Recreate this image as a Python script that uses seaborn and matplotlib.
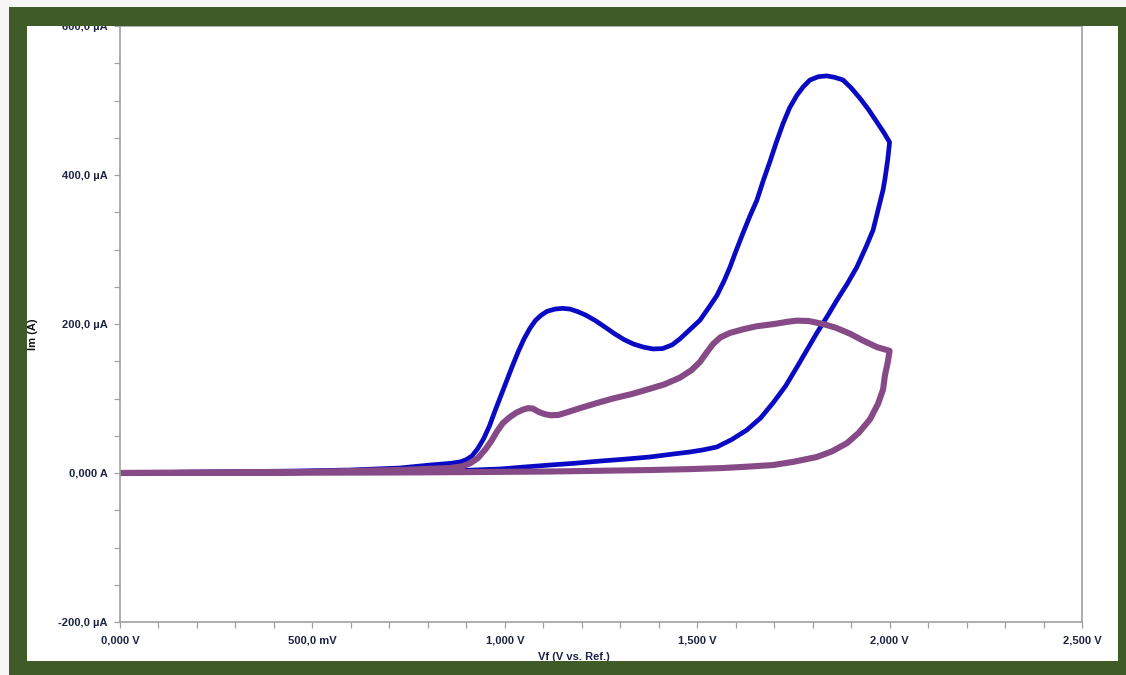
import numpy as np
import pandas as pd
import matplotlib
matplotlib.use("Agg")
import matplotlib.pyplot as plt
from matplotlib.patches import Rectangle
from matplotlib.ticker import FixedLocator, MultipleLocator
import seaborn as sns

# Cyclic voltammograms: potential (V) vs. current (uA), forward sweep then reverse sweep
blue_fwd_v = [0.0, 0.208, 0.468, 0.598, 0.728, 0.806, 0.86, 0.885, 0.90, 0.915, 0.93, 0.945,
              0.96, 0.975, 0.99, 1.005, 1.02, 1.035, 1.05, 1.065, 1.08, 1.095, 1.11, 1.13,
              1.15, 1.17, 1.19, 1.21, 1.234, 1.26, 1.285, 1.31, 1.335, 1.36, 1.385, 1.41,
              1.435, 1.455, 1.48, 1.507, 1.53, 1.551, 1.57, 1.585, 1.60, 1.619, 1.637, 1.655,
              1.672, 1.689, 1.705, 1.723, 1.74, 1.759, 1.775, 1.793, 1.815, 1.837, 1.858,
              1.879, 1.90, 1.923, 1.945, 1.967, 1.985, 2.0]
blue_fwd_i = [0.0, 1.3, 2.7, 4.0, 6.7, 10.7, 13.0, 15.0, 18.0, 23.0, 33.0, 46.0,
              63.0, 84.0, 104.0, 124.0, 144.0, 163.0, 180.0, 194.0, 205.0, 212.0, 217.0, 220.0,
              221.0, 220.0, 216.5, 212.0, 205.0, 196.0, 187.0, 179.0, 173.0, 169.0, 166.5, 167.0,
              172.0, 180.0, 192.0, 205.0, 222.0, 238.0, 258.0, 276.0, 297.0, 322.0, 345.0, 366.0,
              393.0, 418.0, 443.0, 469.0, 490.0, 507.0, 518.0, 527.5, 532.0, 533.0, 531.0,
              527.5, 517.0, 503.0, 488.0, 471.0, 457.0, 444.0]
blue_rev_v = [1.995, 1.988, 1.983, 1.97, 1.957, 1.94, 1.915, 1.89, 1.863, 1.84, 1.811, 1.785,
              1.759, 1.73, 1.697, 1.665, 1.629, 1.59, 1.551, 1.515, 1.481, 1.43, 1.377, 1.31,
              1.247, 1.18, 1.117, 1.05, 0.988, 0.92, 0.858, 0.75, 0.598, 0.3, 0.0]
blue_rev_i = [420.0, 395.0, 380.0, 353.0, 326.0, 305.0, 276.5, 254.0, 232.0, 212.0, 188.0, 165.0,
              142.0, 117.0, 94.0, 74.0, 57.7, 45.0, 34.9, 31.0, 28.2, 25.0, 21.5, 18.5,
              16.0, 13.0, 10.7, 8.0, 5.4, 4.0, 2.7, 1.5, 0.7, 0.3, 0.0]

purple_fwd_v = [0.0, 0.468, 0.728, 0.858, 0.89, 0.91, 0.93, 0.95, 0.965, 0.98, 0.995, 1.013,
                1.03, 1.047, 1.06, 1.073, 1.088, 1.104, 1.12, 1.14, 1.165, 1.195, 1.24, 1.281,
                1.33, 1.37, 1.415, 1.455, 1.485, 1.507, 1.525, 1.541, 1.56, 1.585, 1.62, 1.655,
                1.7, 1.735, 1.759, 1.79, 1.827, 1.86, 1.897, 1.93, 1.967, 2.0]
purple_fwd_i = [0.0, 1.3, 4.0, 6.7, 9.0, 13.0, 20.0, 32.0, 43.0, 56.0, 67.0, 75.0,
                81.0, 85.0, 87.0, 86.5, 82.0, 79.0, 77.5, 78.0, 82.0, 87.0, 94.0, 100.0,
                106.0, 112.0, 119.0, 128.0, 138.0, 149.0, 162.0, 173.0, 182.0, 188.0, 193.0, 197.0,
                200.0, 203.0, 204.5, 204.0, 200.0, 195.0, 187.0, 178.0, 169.0, 164.0]
purple_rev_v = [1.995, 1.988, 1.983, 1.97, 1.949, 1.92, 1.889, 1.85, 1.811, 1.75, 1.697, 1.63,
                1.567, 1.48, 1.377, 1.25, 1.117, 0.9, 0.728, 0.4, 0.0]
purple_rev_i = [148.0, 131.5, 112.0, 93.0, 72.0, 54.0, 40.0, 29.0, 21.5, 15.0, 10.7, 8.5,
                6.7, 5.2, 4.0, 3.0, 2.0, 1.2, 0.7, 0.3, 0.0]

x_ticks = [0.0, 0.5, 1.0, 1.5, 2.0, 2.5]
x_tick_labels = ["0,000 V", "500,0 mV", "1,000 V", "1,500 V", "2,000 V", "2,500 V"]
y_ticks = [-200, 0, 200, 400, 600]
y_tick_labels = ["-200,0 \u00b5A", "0,000 A", "200,0 \u00b5A", "400,0 \u00b5A", "600,0 \u00b5A"]

series_colors = {"blue": "#0a0ac4", "purple": "#864a86"}
series_widths = {"blue": 3.4, "purple": 4.4}

frames = []
for name, v, i in [("blue", blue_fwd_v + blue_rev_v, blue_fwd_i + blue_rev_i),
                   ("purple", purple_fwd_v + purple_rev_v, purple_fwd_i + purple_rev_i)]:
    frames.append(pd.DataFrame({"V": v, "I": i, "run": name}))
df = pd.concat(frames, ignore_index=True)

sns.set_theme(style="white")
plt.rcParams["font.family"] = ["Liberation Sans", "DejaVu Sans"]

W, H = 1126, 675
fig = plt.figure(figsize=(W / 100, H / 100), dpi=100, facecolor="#f6f6f6")

def fx(px):
    return px / W

def fy(py):
    return (H - py) / H

# white panel behind the chart
fig.patches.append(Rectangle((fx(9), fy(675)), fx(1126 - 9), fy(7) - fy(675),
                             transform=fig.transFigure, facecolor="white",
                             edgecolor="none", zorder=-2))

ax = fig.add_axes([fx(120), fy(622), fx(1082 - 120), fy(26) - fy(622)])

for name in ["blue", "purple"]:
    sub = df[df["run"] == name]
    sns.lineplot(data=sub, x="V", y="I", sort=False, estimator=None, ax=ax,
                 color=series_colors[name], linewidth=series_widths[name],
                 solid_joinstyle="round", solid_capstyle="round", legend=False)

ax.set_xlim(0, 2.5)
ax.set_ylim(-200, 600)
ax.xaxis.set_major_locator(FixedLocator(x_ticks))
ax.xaxis.set_minor_locator(MultipleLocator(0.1))
ax.yaxis.set_major_locator(FixedLocator(y_ticks))
ax.yaxis.set_minor_locator(MultipleLocator(50))
ax.set_xticklabels(x_tick_labels)
ax.set_yticklabels(y_tick_labels)

label_color = "#1c2444"
ax.tick_params(axis="both", which="both", direction="out", length=4, width=0.9,
               color="#a0a0a0", labelsize=8, labelcolor=label_color)
ax.tick_params(axis="x", which="both", bottom=True, pad=6)
ax.tick_params(axis="y", which="both", left=True, pad=5)
for lbl in ax.get_xticklabels() + ax.get_yticklabels():
    lbl.set_fontweight("bold")
for s in ax.spines.values():
    s.set_color("#a0a0a0")
    s.set_linewidth(1.2)
ax.set_xlabel("")
ax.set_ylabel("")

fig.text(fx(33), fy(334), "Im (A)", rotation=90, ha="center", va="center",
         fontsize=8, fontweight="bold", color="#111111")
fig.text(fx(574), fy(657), "Vf (V vs. Ref.)", ha="center", va="center",
         fontsize=8, fontweight="bold", color=label_color)

# green frame around the panel
green = "#3e5b28"
for (x0, y0, x1, y1) in [(9, 7, 1126, 26), (9, 7, 27, 675), (1118, 7, 1126, 675), (9, 661, 1126, 675)]:
    fig.add_artist(Rectangle((fx(x0), fy(y1)), fx(x1 - x0), fy(y0) - fy(y1),
                             transform=fig.transFigure, facecolor=green,
                             edgecolor="none", zorder=10))

fig.savefig("out.png", dpi=100, facecolor=fig.get_facecolor())
